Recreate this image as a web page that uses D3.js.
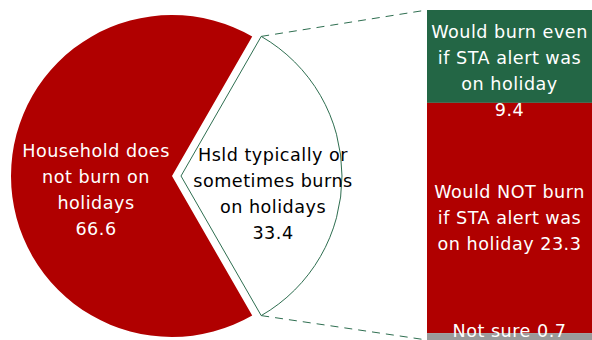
<!DOCTYPE html>
<html><head><meta charset="utf-8">
<script src="https://cdn.jsdelivr.net/npm/d3@7"></script>
<style>body{margin:0;background:#fff}svg{display:block}text{font-family:"DejaVu Sans",sans-serif;font-size:17.6px;letter-spacing:0.5px}</style>
</head><body>
<svg id="c" width="592" height="340"></svg>
<script>
const pieCategories = ["Household does not burn on holidays", "Hsld typically or sometimes burns on holidays"];
const pieValues = [66.6, 33.4];
const pieLabelLines = [["Household does", "not burn on", "holidays", "66.6"], ["Hsld typically or", "sometimes burns", "on holidays", "33.4"]];
const barCategories = ["Would burn even if STA alert was on holiday", "Would NOT burn if STA alert was on holiday", "Not sure"];
const barValues = [9.4, 23.3, 0.7];
const barLabelLines = [["Would burn even", "if STA alert was", "on holiday", "9.4"], ["Would NOT burn", "if STA alert was", "on holiday 23.3"], ["Not sure 0.7"]];

const svg = d3.select("#c");
const cx = 172, cy = 176, R = 161, explode = 9;
const total = d3.sum(pieValues);
const start = Math.PI / 2 + Math.PI * pieValues[1] / total;
const pie = d3.pie().sort(null).startAngle(start).endAngle(start + 2 * Math.PI);
const arcs = pie(pieValues);
const arc = d3.arc().innerRadius(0).outerRadius(R);
const pieColors = ["#b00000", "#ffffff"];

const g = svg.append("g").attr("transform", `translate(${cx},${cy})`);
arcs.forEach((a, i) => {
  const mid = (a.startAngle + a.endAngle) / 2;
  const off = i === 1 ? explode : 0;
  const dx = off * Math.sin(mid), dy = -off * Math.cos(mid);
  g.append("path").attr("d", arc(a)).attr("transform", `translate(${dx},${dy})`)
    .attr("fill", pieColors[i]).attr("stroke", i === 1 ? "#2e6e50" : "none").attr("stroke-width", 1);
});

// bar
const bx0 = 427, bx1 = 592, by0 = 10, by1 = 340;
const y = d3.scaleLinear().domain([0, d3.sum(barValues)]).range([by0, by1]);
const barColors = ["#236645", "#b00000", "#9a9a9a"];
let acc = 0;
const barRects = barValues.map((v, i) => { const r = {y0: y(acc), y1: y(acc + v)}; acc += v; return r; });
barRects.forEach((r, i) => {
  svg.append("rect").attr("x", bx0).attr("y", r.y0).attr("width", bx1 - bx0).attr("height", r.y1 - r.y0).attr("fill", barColors[i]);
});

// connector lines
const w = arcs[1];
const wmid = (w.startAngle + w.endAngle) / 2;
const ox = cx + explode * Math.sin(wmid), oy = cy - explode * Math.cos(wmid);
const p1 = [ox + R * Math.sin(w.startAngle), oy - R * Math.cos(w.startAngle)];
const p2 = [ox + R * Math.sin(w.endAngle), oy - R * Math.cos(w.endAngle)];
svg.append("line").attr("x1", p1[0]).attr("y1", p1[1]).attr("x2", bx0).attr("y2", by0)
  .attr("stroke", "#2e6e50").attr("stroke-width", 1).attr("stroke-dasharray", "8,6");
svg.append("line").attr("x1", p2[0]).attr("y1", p2[1]).attr("x2", bx0).attr("y2", by1)
  .attr("stroke", "#2e6e50").attr("stroke-width", 1).attr("stroke-dasharray", "8,6");

function block(x, yc, lines, color, lh) {
  const t = svg.append("text").attr("text-anchor", "middle").attr("fill", color);
  const n = lines.length;
  lines.forEach((l, k) => {
    t.append("tspan").attr("x", x).attr("y", yc + (k - (n - 1) / 2) * lh + 6.5).text(l);
  });
}
block(96, 189, pieLabelLines[0], "#ffffff", 26);
block(273, 193.5, pieLabelLines[1], "#000000", 25.7);
const bxc = (bx0 + bx1) / 2;
block(bxc, 70, barLabelLines[0], "#ffffff", 26);
block(bxc, 217.5, barLabelLines[1], "#ffffff", 25.7);
block(bxc, 330, barLabelLines[2], "#ffffff", 26);
</script>
</body></html>
